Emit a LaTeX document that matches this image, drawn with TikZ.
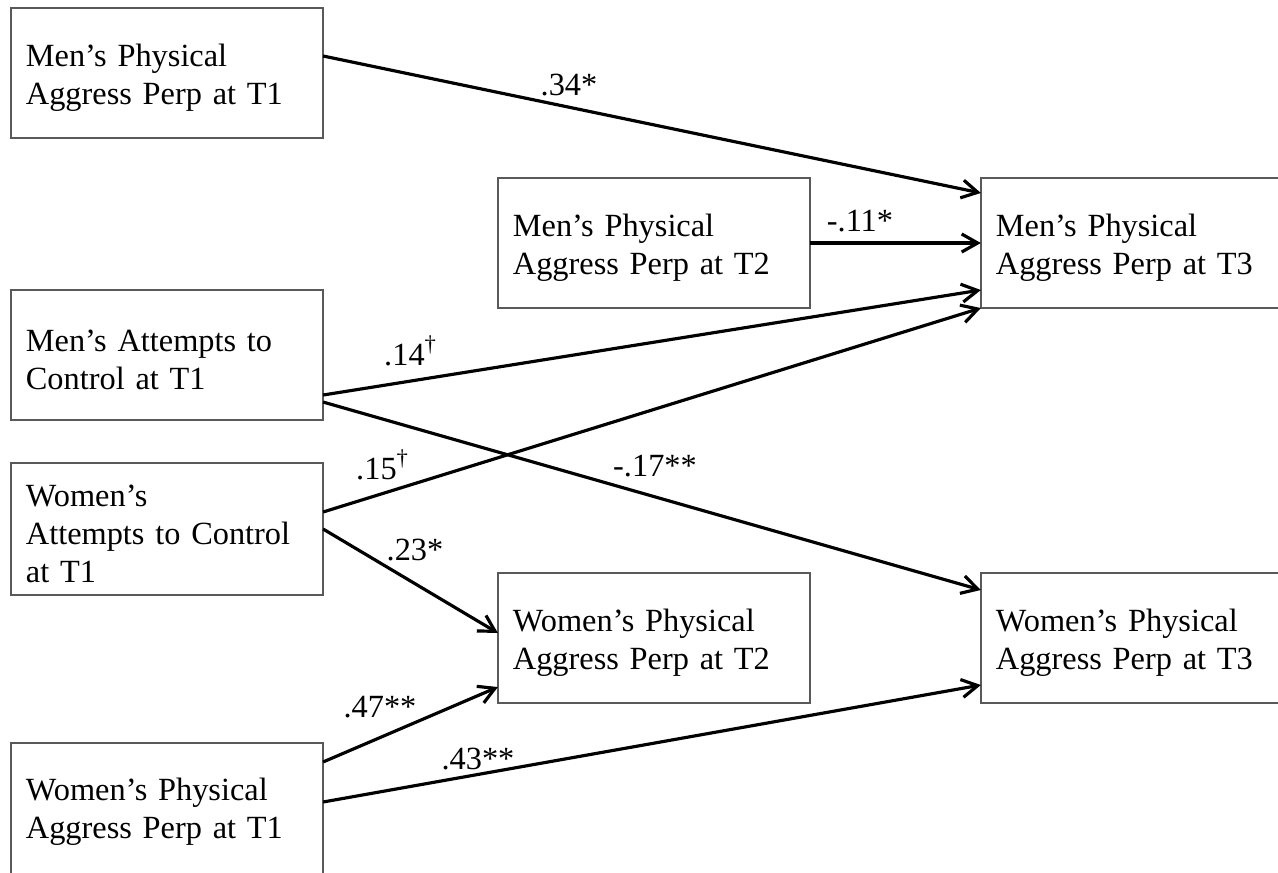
\documentclass[tikz,border=0pt]{standalone}
\usepackage{fontspec}
\setmainfont{Liberation Serif}
\usetikzlibrary{arrows.meta}

\begin{document}
\begin{tikzpicture}[x=0.01cm,y=-0.01cm,line width=0.9pt,>={Straight Barb[length=1.6mm,width=1.8mm]},
  varbox/.style={draw=black!65,line width=0.6pt,minimum width=3.12cm,minimum height=1.3cm,
    text width=2.82cm,inner xsep=0.15cm,align=left,outer sep=0pt,font=\fontsize{9.2}{10.8}\selectfont,
    execute at begin node={\rule{0pt}{9pt}}},
  widebox/.style={varbox,minimum width=3.6cm,text width=3.3cm},
  coef/.style={inner sep=0pt,font=\fontsize{9.2}{10.8}\selectfont}]
  \useasboundingbox (0,0) rectangle (1278,872);
  \clip (0,0) rectangle (1278,872);
  % variables at T1 (left column)
  \node[varbox] (m1) at (167,73) {Men’s Physical\\Aggress Perp at T1};
  \node[varbox] (mac) at (167,355) {Men’s Attempts to\\Control at T1};
  \node[varbox] (wac) at (167,529) {Women’s\\Attempts to Control\\at T1};
  \node[varbox,minimum height=1.5cm,text depth=19pt] (w1) at (167,818) {Women’s Physical\\Aggress Perp at T1};
  % T2 (middle) and T3 (right, running off the page)
  \node[varbox] (m2) at (654,243) {Men’s Physical\\Aggress Perp at T2};
  \node[varbox] (w2) at (654,638) {Women’s Physical\\Aggress Perp at T2};
  \node[widebox] (m3) at (1161,243) {Men’s Physical\\Aggress Perp at T3};
  \node[widebox] (w3) at (1161,638) {Women’s Physical\\Aggress Perp at T3};
  % paths
  \draw[->] ([yshift=0.17cm]m1.east) -- ([yshift=0.5cm]m3.west);
  \draw[->] (m2.east) -- (m3.west);
  \draw[->] ([yshift=-0.4cm]mac.east) -- ([yshift=-0.47cm]m3.west);
  \draw[->] ([yshift=-0.47cm]mac.east) -- ([yshift=0.48cm]w3.west);
  \draw[->] ([yshift=0.17cm]wac.east) -- (m3.south west);
  \draw[->] (wac.east) -- ([yshift=0.05cm]w2.west);
  \draw[->] ([yshift=0.56cm]w1.east) -- ([yshift=-0.49cm]w2.west);
  \draw[->] ([yshift=0.16cm]w1.east) -- ([yshift=-0.47cm]w3.west);
  % coefficients
  \node[coef] (c34) at (569,85) {.34*};
  \node[coef] (c11) at (860,221) {-.11*};
  \node[coef] (c14) at (411,351) {.14\textsuperscript{\textdagger}};
  \node[coef] (c15) at (383,465) {.15\textsuperscript{\textdagger}};
  \node[coef] (c17) at (655,466) {-.17**};
  \node[coef] (c23) at (415,550) {.23*};
  \node[coef] (c47) at (380,707) {.47**};
  \node[coef] (c43) at (478,759) {.43**};
\end{tikzpicture}
\end{document}
